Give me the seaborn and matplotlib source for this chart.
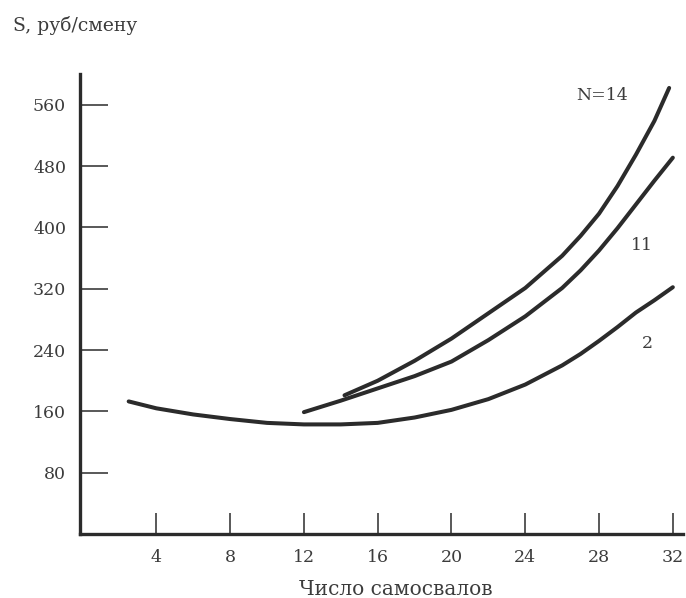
import matplotlib
matplotlib.use("Agg")
import matplotlib.pyplot as plt
import pandas as pd
import seaborn as sns

# curves (число самосвалов -> S, руб/смену)
x_n2 = [2.5, 4, 6, 8, 10, 12, 14, 16, 18, 20, 22, 24, 26, 27, 28, 29, 30, 31, 32]
s_n2 = [173, 164, 156, 150, 145, 143, 143, 145, 152, 162, 176, 195, 220, 235, 252, 270, 289, 305, 322]

x_n11 = [12, 14, 16, 18, 20, 22, 24, 26, 27, 28, 29, 30, 31, 32]
s_n11 = [159, 174, 190, 206, 225, 253, 284, 321, 344, 370, 399, 430, 461, 491]

x_n14 = [14.2, 16, 18, 20, 22, 24, 26, 27, 28, 29, 30, 31, 31.8]
s_n14 = [181, 200, 226, 255, 288, 321, 363, 389, 418, 454, 495, 539, 582]

x_ticks = [4, 8, 12, 16, 20, 24, 28, 32]
y_ticks = [80, 160, 240, 320, 400, 480, 560]

curve_labels = ["N=14", "11", "2"]
label_x = [28.15, 30.3, 30.6]
label_y = [572, 376, 249]

df = pd.concat([
    pd.DataFrame({"n": x_n2, "s": s_n2, "curve": "2"}),
    pd.DataFrame({"n": x_n11, "s": s_n11, "curve": "11"}),
    pd.DataFrame({"n": x_n14, "s": s_n14, "curve": "14"}),
])

sns.set_theme(style="white")
plt.rcParams["font.family"] = ["DejaVu Serif"]

ink = "#2b2b2b"
txt = "#3c3c3c"

fig = plt.figure(figsize=(6.86, 5.98), dpi=100)
ax = fig.add_axes([0.1166, 0.107, 0.879, 0.769])

sns.lineplot(data=df, x="n", y="s", hue="curve", units="curve", estimator=None,
             palette={"2": ink, "11": ink, "14": ink}, linewidth=2.9,
             legend=False, ax=ax, sort=False)

ax.set_xlim(-0.14, 32.55)
ax.set_ylim(0, 600)
ax.set_xticks(x_ticks)
ax.set_yticks(y_ticks)
ax.tick_params(axis="y", left=True, direction="in", length=20, width=1.1, color=ink,
               labelsize=12.5, labelcolor=txt, pad=10)
ax.tick_params(axis="x", bottom=True, direction="in", length=15, width=1.1, color=ink,
               labelsize=12.5, labelcolor=txt, pad=11)

for side in ["top", "right"]:
    ax.spines[side].set_visible(False)
for side in ["left", "bottom"]:
    ax.spines[side].set_linewidth(2.4)
    ax.spines[side].set_color(ink)

ax.set_xlabel("Число самосвалов", fontsize=14.5, color=txt, labelpad=7)
ax.xaxis.set_label_coords(0.524, -0.1)
ax.set_ylabel("")
fig.text(0.019, 0.957, "S, руб/смену", fontsize=13.5, color=txt, ha="left", va="center")

for lab, lx, ly in zip(curve_labels, label_x, label_y):
    ax.text(lx, ly, lab, fontsize=12.5, color=txt, ha="center", va="center")

fig.savefig("out.png", dpi=100, facecolor="white")
